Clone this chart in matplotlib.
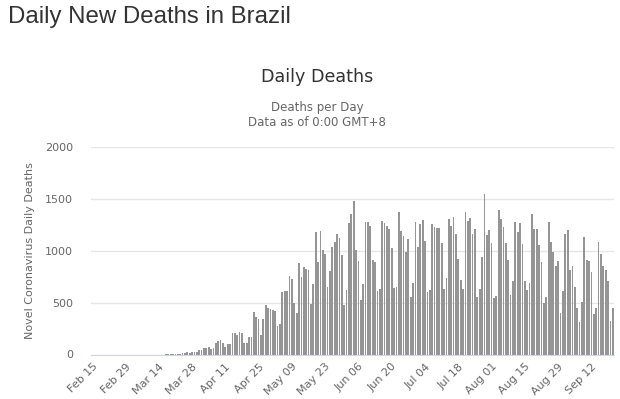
import matplotlib
matplotlib.use('Agg')
import matplotlib.pyplot as plt
import numpy as np
import pandas as pd

# daily deaths, Feb 15 - Sep 21 2020
feb_mar_zero = [0] * 31  # Feb 15 .. Mar 16
mar = [1, 3, 2, 5, 7, 7, 9, 12, 11, 20, 15, 22, 22, 23, 42]  # Mar 17 .. Mar 31
apr = [40, 58, 60, 73, 54, 67, 114, 133, 141, 115, 68, 99, 105, 204, 204,
       188, 217, 206, 115, 113, 166, 165, 407, 357, 346, 189, 338, 474, 449, 435]
may = [428, 421, 275, 296, 600, 615, 610, 751, 730, 496, 396, 881, 749, 844, 824,
       816, 485, 674, 1179, 888, 1188, 1001, 965, 653, 807, 1039, 1086, 1156, 1124, 956, 480]
jun = [623, 1262, 1349, 1473, 1005, 904, 525, 679, 1272, 1274, 1239, 909, 892, 612, 627,
       1282, 1269, 1238, 1206, 1022, 641, 654, 1374, 1185, 1141, 990, 1109, 552, 692, 1280]
jul = [1038, 1252, 1290, 1091, 602, 620, 1254, 1223, 1220, 1214, 1071, 631, 733, 1300, 1233,
       1322, 1163, 921, 716, 632, 1367, 1284, 1311, 1156, 1211, 555, 627, 935, 1545, 1150, 1200]
aug = [1070, 541, 561, 1390, 1305, 1230, 1070, 905, 572, 703, 1274, 1175, 1262, 1060, 709,
       620, 684, 1352, 1212, 1204, 1054, 892, 494, 555, 1271, 1085, 984, 855, 897, 397, 613]
sep = [1155, 1203, 816, 848, 645, 452, 310, 510, 1129, 913, 897, 790, 387, 452, 1081,
       968, 848, 816, 703, 326, 452]

deaths = feb_mar_zero + mar + apr + may + jun + jul + aug + sep
dates = pd.date_range('2020-02-15', periods=len(deaths), freq='D')

fig = plt.figure(figsize=(6.2, 3.99), dpi=100)
ax = fig.add_axes([91 / 620, 1 - 354.5 / 399, (614 - 91) / 620, (354.5 - 146.7) / 399])

x = np.arange(len(deaths))
ax.bar(x, deaths, width=0.74, color='#959595', zorder=2)

ax.set_xlim(-0.5, len(deaths) - 0.5)
ax.set_ylim(0, 2000)
ax.set_yticks([0, 500, 1000, 1500, 2000])
ax.grid(axis='y', color='#e6e6e6', linewidth=1, zorder=0)

ticks = x[::14]
ax.set_xticks(ticks)
ax.set_xticklabels([d.strftime('%b %d') for d in dates[::14]], rotation=45,
                   ha='right', rotation_mode='anchor')
ax.tick_params(axis='x', length=0, pad=5, labelsize=8, labelcolor='#666666')
ax.tick_params(axis='y', length=0, pad=13, labelsize=8, labelcolor='#666666')

for s in ['top', 'right', 'left']:
    ax.spines[s].set_visible(False)
ax.spines['bottom'].set_color('#ccd6eb')

fig.text(30 / 620, 0.371, 'Novel Coronavirus Daily Deaths', rotation=90, ha='center',
         va='center', fontsize=8, color='#666666')

fig.text(8 / 620, 1 - 17 / 399, 'Daily New Deaths in Brazil', ha='left', va='center',
         fontsize=17.3, color='#333333', family='Liberation Sans')
fig.text(317 / 620, 1 - 77 / 399, 'Daily Deaths', ha='center', va='center',
         fontsize=12.6, color='#333333')
fig.text(317 / 620, 1 - 107 / 399, 'Deaths per Day', ha='center', va='center',
         fontsize=8.5, color='#666666')
fig.text(317 / 620, 1 - 123 / 399, 'Data as of 0:00 GMT+8', ha='center', va='center',
         fontsize=8.5, color='#666666')

fig.savefig('out.png', dpi=100)
